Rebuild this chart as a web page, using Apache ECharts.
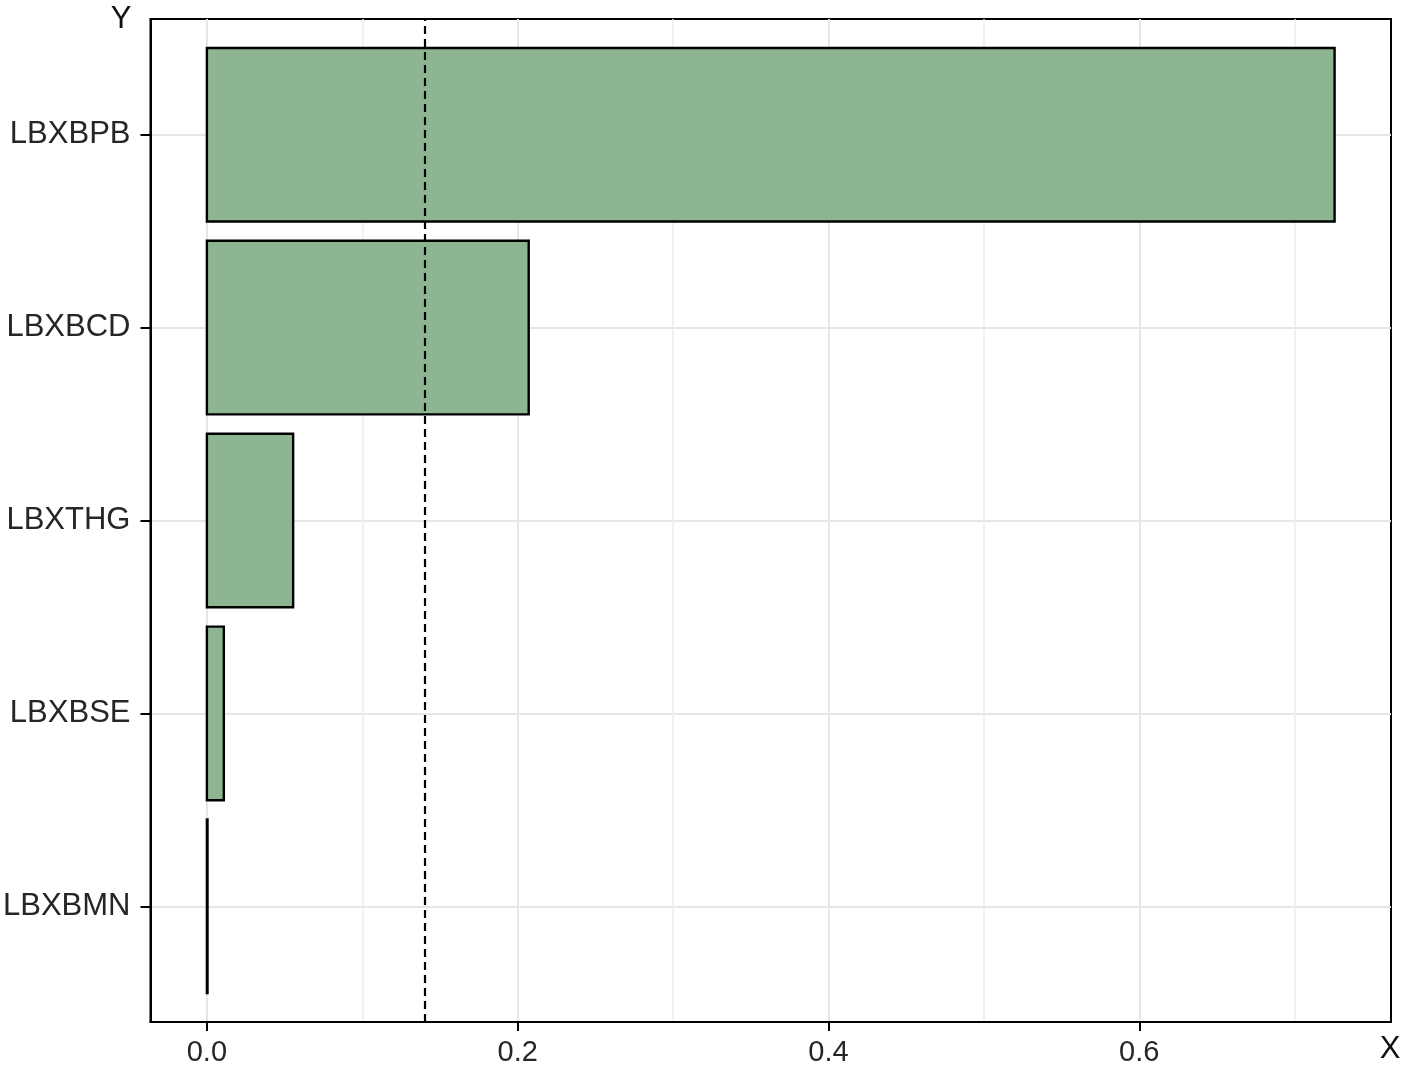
<!DOCTYPE html>
<html>
<head>
<meta charset="utf-8">
<script src="https://cdn.jsdelivr.net/npm/echarts@6/dist/echarts.min.js"></script>
<style>
  html, body { margin: 0; padding: 0; background: #fff; }
  #chart { width: 1408px; height: 1075px; }
</style>
</head>
<body>
<div id="chart"></div>
<script>
// ---- data (top to bottom as drawn) ----
const categories = ['LBXBPB', 'LBXBCD', 'LBXTHG', 'LBXBSE', 'LBXBMN'];
const values = [0.7257, 0.2071, 0.0555, 0.0109, 0.0004];
const threshold = 0.1429;
const xTickValues = [0, 0.2, 0.4, 0.6];
const xTickLabels = ['0.0', '0.2', '0.4', '0.6'];
const xMinorValues = [0.1, 0.3, 0.5, 0.7];

const n = categories.length;
const yPos = categories.map((c, i) => n - 1 - i);   // top category gets highest position
const points = values.map((v, i) => [v, yPos[i]]);

const FONT = '"Liberation Sans", Arial, sans-serif';
const BAR_FRACTION = 0.9;

const chart = echarts.init(document.getElementById('chart'), null, { renderer: 'canvas' });

const option = {
  backgroundColor: '#ffffff',
  animation: false,
  grid: {
    left: 149, right: 17, top: 19, bottom: 53,
    show: true, borderColor: '#000', borderWidth: 2, backgroundColor: 'transparent'
  },
  xAxis: [
    {
      type: 'value',
      position: 'bottom',
      min: -0.0363, max: 0.7620,
      name: 'X',
      nameLocation: 'end',
      nameGap: -1,
      nameTextStyle: { fontFamily: FONT, fontSize: 31, color: '#111', align: 'center', verticalAlign: 'top', padding: [12, 0, 0, 0] },
      axisLine: { show: true, onZero: false, lineStyle: { color: '#000', width: 2 } },
      axisTick: { show: true, length: 9, lineStyle: { color: '#000', width: 2 }, customValues: xTickValues },
      axisLabel: {
        show: true, customValues: xTickValues, margin: 16,
        fontFamily: FONT, fontSize: 29, color: '#262626',
        formatter: v => xTickLabels[xTickValues.indexOf(Math.round(v * 10) / 10)]
      },
      splitLine: { show: true, lineStyle: { color: '#e6e6e6', width: 2 } }
    },
    {
      type: 'value',
      position: 'top',
      min: -0.0363, max: 0.7620,
      axisLine: { show: false, onZero: false },
      axisTick: { show: false, customValues: xMinorValues },
      axisLabel: { show: false },
      splitLine: { show: true, lineStyle: { color: '#ececec', width: 1.5 } }
    }
  ],
  yAxis: {
    type: 'value',
    min: -0.6, max: n - 1 + 0.6,
    name: 'Y',
    nameLocation: 'end',
    nameGap: 0,
    nameTextStyle: { fontFamily: FONT, fontSize: 31, color: '#111', align: 'right', verticalAlign: 'middle', padding: [0, 19, 0, 0] },
    axisLine: { show: true, onZero: false, lineStyle: { color: '#000', width: 2 } },
    axisTick: { show: true, length: 10, lineStyle: { color: '#000', width: 2 }, customValues: yPos },
    axisLabel: {
      show: true, customValues: yPos, margin: 20,
      fontFamily: FONT, fontSize: 31, color: '#262626',
      formatter: v => categories[n - 1 - Math.round(v)]
    },
    splitLine: { show: true, lineStyle: { color: '#e6e6e6', width: 2 } }
  },
  series: [
    {
      type: 'custom',
      xAxisIndex: 0,
      z: 2,
      data: points,
      encode: { x: 0, y: 1 },
      renderItem: function (params, api) {
        const v = api.value(0), p = api.value(1);
        const a = api.coord([0, p]);
        const b = api.coord([v, p]);
        const h = api.size([0, BAR_FRACTION])[1];
        return {
          type: 'rect',
          shape: { x: a[0], y: a[1] - h / 2, width: b[0] - a[0], height: h },
          style: { fill: '#8db592', stroke: '#000', lineWidth: 2.4 }
        };
      }
    },
    {
      type: 'scatter',
      xAxisIndex: 0,
      z: 3,
      symbolSize: 0,
      silent: true,
      data: points,
      markLine: {
        silent: true,
        symbol: ['none', 'none'],
        label: { show: false },
        lineStyle: { type: [8, 5], color: '#000', width: 2.2 },
        data: [{ xAxis: threshold }]
      }
    }
  ]
};
chart.setOption(option);
</script>
</body>
</html>
